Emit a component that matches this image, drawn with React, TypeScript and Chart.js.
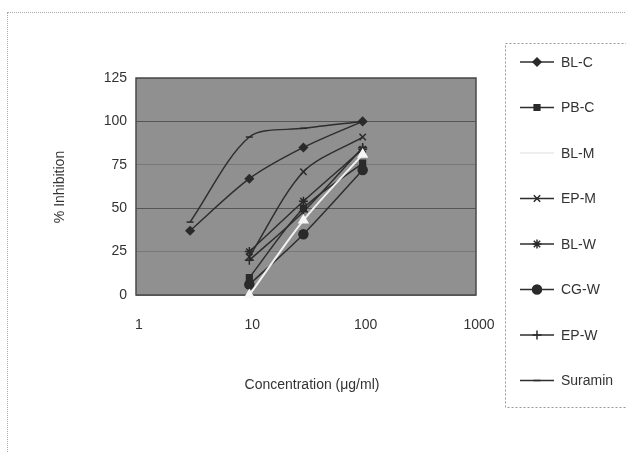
import React, { useEffect, useRef } from 'react';
import { Chart, registerables } from 'chart.js';
import { drawPoint } from 'chart.js/helpers';

Chart.register(...registerables);

const concentrations = [3, 10, 30, 100];
const xTickValues = [1, 10, 100, 1000];
const seriesNames = ['BL-C', 'PB-C', 'BL-M', 'EP-M', 'BL-W', 'CG-W', 'EP-W', 'Suramin'];
const blC = [37, 67, 85, 100];
const pbC = [null, 10, 50, 76];
const blM = [null, 0, 43, 81];
const epM = [null, 22, 71, 91];
const blW = [null, 25, 54, 84];
const cgW = [null, 6, 35, 72];
const epW = [null, 20, 48, 85];
const suramin = [42, 91, 96, 100];

const seriesValues = [blC, pbC, blM, epM, blW, cgW, epW, suramin];

const styles = [
  { pointStyle: 'rectRot', radius: 4, color: '#2a2a2a', line: '#2e2e2e', width: 1.5 },
  { pointStyle: 'rect', radius: 4, color: '#2a2a2a', line: '#2e2e2e', width: 1.5 },
  { pointStyle: 'triangle', radius: 5, color: '#f6f6f6', line: '#f0f0f0', width: 2 },
  { pointStyle: 'crossRot', radius: 4.5, color: '#2a2a2a', line: '#2e2e2e', width: 1.5 },
  { pointStyle: 'star', radius: 4.5, color: '#2a2a2a', line: '#2e2e2e', width: 1.5 },
  { pointStyle: 'circle', radius: 4.5, color: '#2a2a2a', line: '#2e2e2e', width: 1.5 },
  { pointStyle: 'cross', radius: 4.5, color: '#2a2a2a', line: '#2e2e2e', width: 1.5 },
  { pointStyle: 'line', radius: 3.5, color: '#2a2a2a', line: '#2e2e2e', width: 1.5 },
];

const FONT = 'Arial, "Liberation Sans", sans-serif';

export default function App() {
  const canvasRef = useRef<HTMLCanvasElement | null>(null);

  useEffect(() => {
    if (!canvasRef.current) return;
    const datasets = seriesNames.map((name, i) => {
      const st = styles[i];
      const data: { x: number; y: number }[] = [];
      concentrations.forEach((c, j) => {
        const v = seriesValues[i][j];
        if (v !== null && v !== undefined) data.push({ x: c, y: v as number });
      });
      return {
        label: name,
        data,
        borderColor: st.line,
        borderWidth: st.width,
        backgroundColor: st.color,
        pointBackgroundColor: st.color,
        pointBorderColor: st.color,
        pointBorderWidth: 1.5,
        pointStyle: st.pointStyle,
        pointRadius: st.radius,
        tension: 0.3,
        clip: false as any,
        order: name === 'BL-M' ? -1 : 0,
      };
    });

    const deco = {
      id: 'deco',
      beforeDatasetsDraw(chart: any) {
        const { ctx, chartArea: a } = chart;
        ctx.save();
        ctx.strokeStyle = '#4a4a4a';
        ctx.lineWidth = 1.5;
        ctx.strokeRect(a.left, a.top, a.right - a.left, a.bottom - a.top);
        ctx.restore();
      },
      beforeDraw(chart: any) {
        const { ctx, chartArea: a } = chart;
        ctx.save();
        ctx.fillStyle = '#909090';
        ctx.fillRect(a.left, a.top, a.right - a.left, a.bottom - a.top);
        ctx.restore();
      },
      afterDraw(chart: any) {
        const { ctx } = chart;
        ctx.save();
        ctx.fillStyle = '#333';
        ctx.font = `14px ${FONT}`;
        ctx.textAlign = 'center';
        ctx.textBaseline = 'middle';
        ctx.fillText('Concentration (\u03bcg/ml)', 312, 385);
        ctx.save();
        ctx.translate(60, 187);
        ctx.rotate(-Math.PI / 2);
        ctx.fillText('% Inhibition', 0, 0);
        ctx.restore();

        ctx.setLineDash([2, 2]);
        ctx.strokeStyle = '#999';
        ctx.lineWidth = 1;
        ctx.strokeRect(505.5, 43.5, 140, 364);
        ctx.setLineDash([]);
        seriesNames.forEach((name, i) => {
          const st = styles[i];
          const y = 62 + i * 45.5;
          ctx.strokeStyle = name === 'BL-M' ? '#eeeeee' : st.line;
          ctx.lineWidth = st.width;
          ctx.beginPath();
          ctx.moveTo(520, y);
          ctx.lineTo(554, y);
          ctx.stroke();
          if (name !== 'BL-M') {
            ctx.fillStyle = st.color;
            ctx.strokeStyle = st.color;
            ctx.lineWidth = 1.5;
            drawPoint(ctx, { pointStyle: st.pointStyle as any, radius: st.radius, rotation: 0, borderWidth: 1.5 }, 537, y);
          }
          ctx.fillStyle = '#333';
          ctx.font = `14px ${FONT}`;
          ctx.textAlign = 'left';
          ctx.textBaseline = 'middle';
          ctx.fillText(name, 561, y + 1);
        });
        ctx.restore();
      },
    };

    const chart = new Chart(canvasRef.current, {
      type: 'line',
      data: { datasets: datasets as any },
      plugins: [deco],
      options: {
        animation: false,
        responsive: false,
        maintainAspectRatio: false,
        layout: { padding: { left: 0, top: 78, right: 150, bottom: 117 } },
        plugins: { legend: { display: false }, tooltip: { enabled: false } },
        scales: {
          x: {
            type: 'logarithmic',
            min: 1,
            max: 1000,
            afterBuildTicks: (s: any) => {
              s.ticks = xTickValues.map((v) => ({ value: v }));
            },
            afterFit: (s: any) => {
              s.height = 40;
            },
            ticks: {
              color: '#333',
              font: { family: FONT, size: 14 },
              padding: 22,
              maxRotation: 0,
              autoSkip: false,
              labelOffset: 3,
              callback: (v: any) => String(v),
            },
            grid: { display: false, drawTicks: false },
            border: { display: false },
          },
          y: {
            type: 'linear',
            min: 0,
            max: 125,
            afterFit: (s: any) => {
              s.width = 136;
            },
            ticks: {
              stepSize: 25,
              color: '#333',
              font: { family: FONT, size: 14 },
              padding: 9,
            },
            grid: {
              color: (c: any) => (c.tick && (c.tick.value === 50 || c.tick.value === 100) ? '#555555' : '#787878'),
              lineWidth: 1,
              drawTicks: false,
            },
            border: { display: false },
          },
        },
      },
    });
    return () => chart.destroy();
  }, []);

  return (
    <div style={{ position: 'fixed', left: 0, top: 0, width: 626, height: 452, background: '#fff', overflow: 'hidden' }}>
      <div
        style={{
          position: 'absolute',
          left: 7,
          top: 12,
          width: 640,
          height: 460,
          border: '1px dotted #aaa',
          boxSizing: 'border-box',
        }}
      />
      <canvas ref={canvasRef} width={626} height={452} style={{ position: 'absolute', left: 0, top: 0 }} />
    </div>
  );
}
